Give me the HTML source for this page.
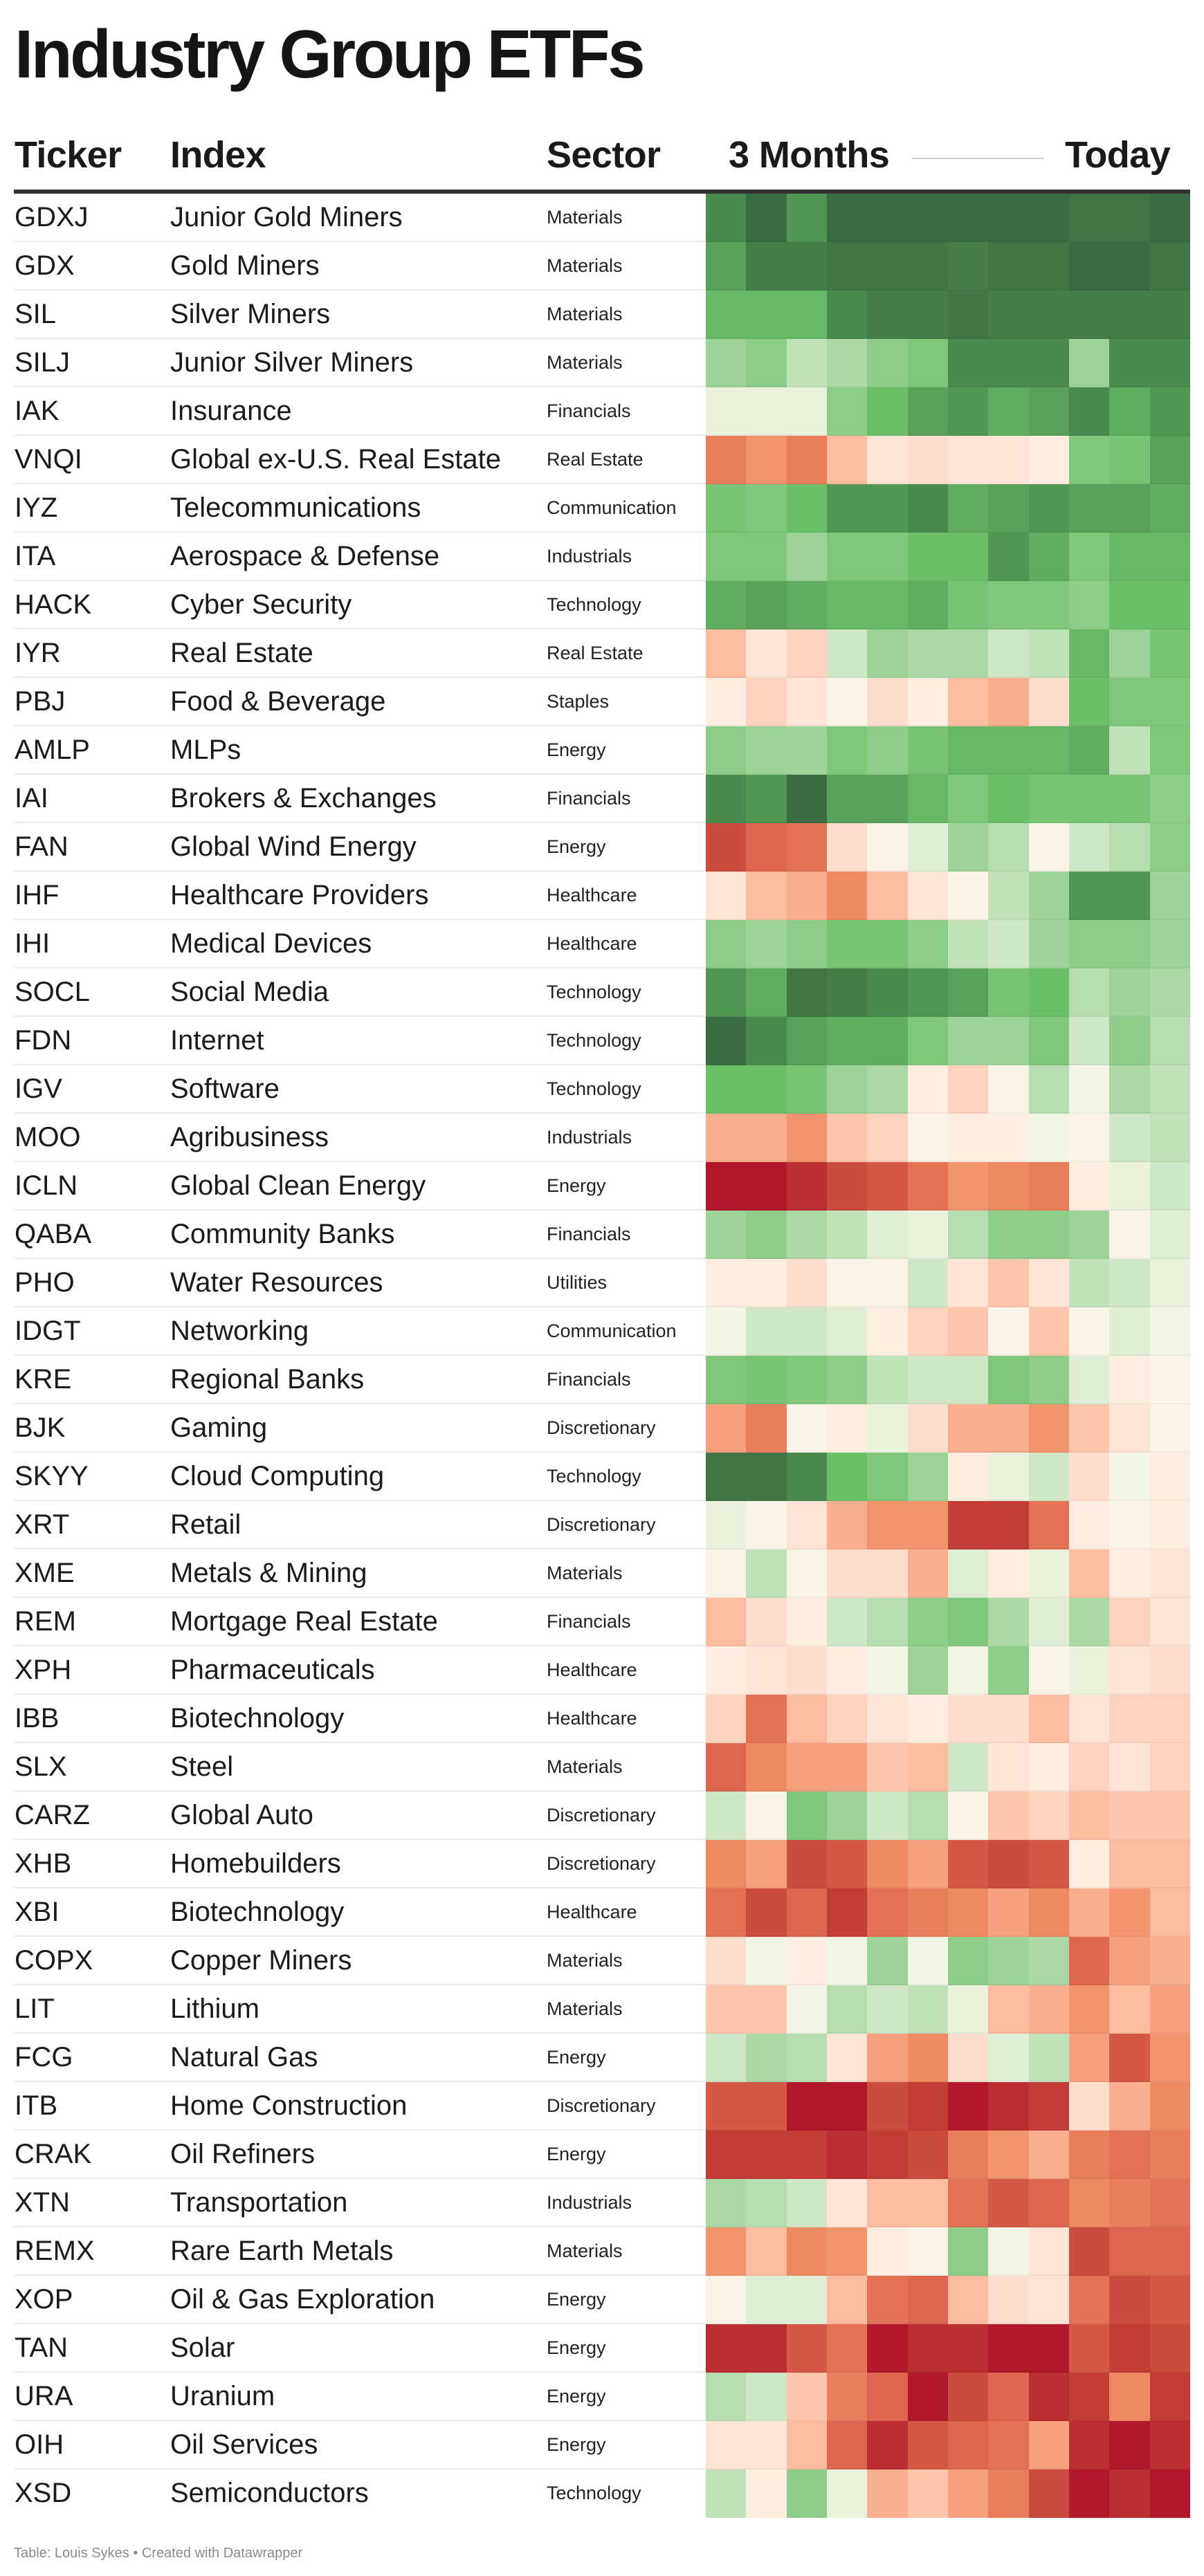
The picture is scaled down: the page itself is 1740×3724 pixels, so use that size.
<!DOCTYPE html>
<html><head><meta charset="utf-8">
<style>
*{margin:0;padding:0;box-sizing:border-box}
html,body{width:1740px;height:3724px;background:#fff;overflow:hidden}
body{position:relative;font-family:"Liberation Sans",Arial,sans-serif;color:#1d1d1d}
.title{position:absolute;left:21px;top:29px;font-size:98px;line-height:98px;font-weight:bold;letter-spacing:-3.5px;color:#151515;white-space:nowrap}
.hd{position:absolute;top:197px;font-size:54px;line-height:54px;font-weight:bold;letter-spacing:-0.6px;color:#1a1a1a;white-space:nowrap}
.hline{position:absolute;left:1318px;top:228px;width:190px;height:2px;background:#cccccc}
.rule{position:absolute;left:20px;top:274px;width:1700px;height:6px;background:#333}
.tb{position:absolute;left:0;top:280px;width:1740px}
.r{position:relative;height:70px}
.r::after{content:"";position:absolute;left:20px;width:1000px;bottom:0;height:2px;background:#ebebeb}
.r:last-child::after{display:none}
.r b,.r span{position:absolute;top:0;font-weight:normal;font-size:40px;line-height:68px;letter-spacing:0;white-space:nowrap;color:#1b1b1b}
.r b{left:21px}
.r span{left:246px}
.r em{position:absolute;left:790px;top:0;font-style:normal;font-size:27px;line-height:68px;letter-spacing:0;white-space:nowrap;color:#222}
.h{position:absolute;left:1020px;top:0;width:700px;height:70px;display:grid;grid-template-columns:repeat(12,1fr)}
.h i{display:block;height:70px;box-shadow:inset 0 -2px 0 rgba(0,0,0,0.035)}
.r:last-child .h i{box-shadow:none}
.foot{position:absolute;left:20px;top:3681px;font-size:20px;line-height:20px;color:#8a8a8a;white-space:nowrap}
.a{background:#3b6b42}.b{background:#417545}.c{background:#457d49}.d{background:#4b8a4f}.e{background:#529653}
.f{background:#59a15b}.g{background:#60ac60}.i{background:#6bbf69}.j{background:#78c374}
.k{background:#80c77c}.l{background:#8ecd89}.m{background:#9dd398}.n{background:#abd8a5}.o{background:#b6ddaf}
.p{background:#c1e1b8}.q{background:#cfe7c6}.r2{background:#e0eed6}.s{background:#eaf2de}.t{background:#f3f5e7}
.u{background:#f9f4e7}.v{background:#fcede0}.w{background:#fde4d6}.x{background:#fdddcc}.y{background:#fdd3bf}
.z{background:#fcc6ad}.A{background:#fbbca0}.B{background:#f8ae8f}.C{background:#f5a07f}.D{background:#f2956f}
.E{background:#ee8a62}.F{background:#e87e5c}.G{background:#e37156}.H{background:#dc6650}.I{background:#d35946}
.J{background:#ca4c3f}.K{background:#c33d38}.L{background:#ba2d31}.M{background:#b1182c}
.gh{background:#66b866}
</style></head><body>
<div class="title">Industry Group ETFs</div>
<div class="hd" style="left:21px">Ticker</div>
<div class="hd" style="left:246px">Index</div>
<div class="hd" style="left:790px">Sector</div>
<div class="hd" style="left:1053px">3 Months</div>
<div class="hline"></div>
<div class="hd" style="left:1539px">Today</div>
<div class="rule"></div>
<div class="tb">
<div class="r"><b>GDXJ</b><span>Junior Gold Miners</span><em>Materials</em><div class="h"><i class="d"></i><i class="a"></i><i class="e"></i><i class="a"></i><i class="a"></i><i class="a"></i><i class="a"></i><i class="a"></i><i class="a"></i><i class="b"></i><i class="b"></i><i class="a"></i></div></div>
<div class="r"><b>GDX</b><span>Gold Miners</span><em>Materials</em><div class="h"><i class="f"></i><i class="c"></i><i class="c"></i><i class="b"></i><i class="b"></i><i class="b"></i><i class="c"></i><i class="b"></i><i class="b"></i><i class="a"></i><i class="a"></i><i class="b"></i></div></div>
<div class="r"><b>SIL</b><span>Silver Miners</span><em>Materials</em><div class="h"><i class="gh"></i><i class="gh"></i><i class="gh"></i><i class="d"></i><i class="c"></i><i class="c"></i><i class="b"></i><i class="c"></i><i class="c"></i><i class="c"></i><i class="c"></i><i class="c"></i></div></div>
<div class="r"><b>SILJ</b><span>Junior Silver Miners</span><em>Materials</em><div class="h"><i class="m"></i><i class="l"></i><i class="p"></i><i class="n"></i><i class="l"></i><i class="k"></i><i class="d"></i><i class="d"></i><i class="d"></i><i class="m"></i><i class="d"></i><i class="d"></i></div></div>
<div class="r"><b>IAK</b><span>Insurance</span><em>Financials</em><div class="h"><i class="s"></i><i class="s"></i><i class="s"></i><i class="l"></i><i class="i"></i><i class="f"></i><i class="e"></i><i class="g"></i><i class="f"></i><i class="d"></i><i class="g"></i><i class="e"></i></div></div>
<div class="r"><b>VNQI</b><span>Global ex-U.S. Real Estate</span><em>Real Estate</em><div class="h"><i class="F"></i><i class="D"></i><i class="F"></i><i class="A"></i><i class="w"></i><i class="x"></i><i class="w"></i><i class="w"></i><i class="v"></i><i class="k"></i><i class="j"></i><i class="f"></i></div></div>
<div class="r"><b>IYZ</b><span>Telecommunications</span><em>Communication</em><div class="h"><i class="j"></i><i class="k"></i><i class="i"></i><i class="e"></i><i class="e"></i><i class="d"></i><i class="g"></i><i class="f"></i><i class="e"></i><i class="f"></i><i class="f"></i><i class="g"></i></div></div>
<div class="r"><b>ITA</b><span>Aerospace &amp; Defense</span><em>Industrials</em><div class="h"><i class="k"></i><i class="k"></i><i class="m"></i><i class="k"></i><i class="k"></i><i class="i"></i><i class="i"></i><i class="e"></i><i class="g"></i><i class="k"></i><i class="gh"></i><i class="gh"></i></div></div>
<div class="r"><b>HACK</b><span>Cyber Security</span><em>Technology</em><div class="h"><i class="g"></i><i class="f"></i><i class="g"></i><i class="gh"></i><i class="gh"></i><i class="g"></i><i class="j"></i><i class="k"></i><i class="k"></i><i class="l"></i><i class="i"></i><i class="i"></i></div></div>
<div class="r"><b>IYR</b><span>Real Estate</span><em>Real Estate</em><div class="h"><i class="A"></i><i class="w"></i><i class="y"></i><i class="q"></i><i class="m"></i><i class="n"></i><i class="n"></i><i class="q"></i><i class="p"></i><i class="gh"></i><i class="m"></i><i class="j"></i></div></div>
<div class="r"><b>PBJ</b><span>Food &amp; Beverage</span><em>Staples</em><div class="h"><i class="v"></i><i class="y"></i><i class="w"></i><i class="u"></i><i class="x"></i><i class="v"></i><i class="A"></i><i class="B"></i><i class="x"></i><i class="i"></i><i class="k"></i><i class="k"></i></div></div>
<div class="r"><b>AMLP</b><span>MLPs</span><em>Energy</em><div class="h"><i class="l"></i><i class="m"></i><i class="m"></i><i class="k"></i><i class="l"></i><i class="j"></i><i class="gh"></i><i class="gh"></i><i class="gh"></i><i class="g"></i><i class="p"></i><i class="k"></i></div></div>
<div class="r"><b>IAI</b><span>Brokers &amp; Exchanges</span><em>Financials</em><div class="h"><i class="d"></i><i class="e"></i><i class="a"></i><i class="f"></i><i class="f"></i><i class="gh"></i><i class="k"></i><i class="i"></i><i class="j"></i><i class="j"></i><i class="j"></i><i class="l"></i></div></div>
<div class="r"><b>FAN</b><span>Global Wind Energy</span><em>Energy</em><div class="h"><i class="J"></i><i class="H"></i><i class="G"></i><i class="x"></i><i class="u"></i><i class="r2"></i><i class="m"></i><i class="o"></i><i class="u"></i><i class="q"></i><i class="o"></i><i class="l"></i></div></div>
<div class="r"><b>IHF</b><span>Healthcare Providers</span><em>Healthcare</em><div class="h"><i class="w"></i><i class="A"></i><i class="B"></i><i class="E"></i><i class="A"></i><i class="w"></i><i class="u"></i><i class="p"></i><i class="m"></i><i class="e"></i><i class="e"></i><i class="m"></i></div></div>
<div class="r"><b>IHI</b><span>Medical Devices</span><em>Healthcare</em><div class="h"><i class="l"></i><i class="m"></i><i class="l"></i><i class="j"></i><i class="j"></i><i class="l"></i><i class="p"></i><i class="q"></i><i class="m"></i><i class="l"></i><i class="l"></i><i class="m"></i></div></div>
<div class="r"><b>SOCL</b><span>Social Media</span><em>Technology</em><div class="h"><i class="e"></i><i class="g"></i><i class="b"></i><i class="c"></i><i class="d"></i><i class="e"></i><i class="f"></i><i class="j"></i><i class="i"></i><i class="o"></i><i class="m"></i><i class="n"></i></div></div>
<div class="r"><b>FDN</b><span>Internet</span><em>Technology</em><div class="h"><i class="a"></i><i class="d"></i><i class="f"></i><i class="g"></i><i class="g"></i><i class="k"></i><i class="m"></i><i class="m"></i><i class="k"></i><i class="q"></i><i class="l"></i><i class="o"></i></div></div>
<div class="r"><b>IGV</b><span>Software</span><em>Technology</em><div class="h"><i class="i"></i><i class="i"></i><i class="j"></i><i class="m"></i><i class="n"></i><i class="v"></i><i class="y"></i><i class="u"></i><i class="o"></i><i class="t"></i><i class="n"></i><i class="p"></i></div></div>
<div class="r"><b>MOO</b><span>Agribusiness</span><em>Industrials</em><div class="h"><i class="B"></i><i class="B"></i><i class="D"></i><i class="z"></i><i class="y"></i><i class="u"></i><i class="v"></i><i class="v"></i><i class="t"></i><i class="u"></i><i class="q"></i><i class="p"></i></div></div>
<div class="r"><b>ICLN</b><span>Global Clean Energy</span><em>Energy</em><div class="h"><i class="M"></i><i class="M"></i><i class="L"></i><i class="J"></i><i class="I"></i><i class="G"></i><i class="D"></i><i class="E"></i><i class="F"></i><i class="v"></i><i class="s"></i><i class="q"></i></div></div>
<div class="r"><b>QABA</b><span>Community Banks</span><em>Financials</em><div class="h"><i class="m"></i><i class="l"></i><i class="n"></i><i class="p"></i><i class="r2"></i><i class="s"></i><i class="o"></i><i class="l"></i><i class="l"></i><i class="m"></i><i class="u"></i><i class="r2"></i></div></div>
<div class="r"><b>PHO</b><span>Water Resources</span><em>Utilities</em><div class="h"><i class="v"></i><i class="v"></i><i class="x"></i><i class="u"></i><i class="u"></i><i class="q"></i><i class="w"></i><i class="z"></i><i class="w"></i><i class="p"></i><i class="q"></i><i class="s"></i></div></div>
<div class="r"><b>IDGT</b><span>Networking</span><em>Communication</em><div class="h"><i class="t"></i><i class="q"></i><i class="q"></i><i class="r2"></i><i class="v"></i><i class="y"></i><i class="z"></i><i class="u"></i><i class="z"></i><i class="u"></i><i class="r2"></i><i class="t"></i></div></div>
<div class="r"><b>KRE</b><span>Regional Banks</span><em>Financials</em><div class="h"><i class="k"></i><i class="j"></i><i class="k"></i><i class="l"></i><i class="p"></i><i class="q"></i><i class="q"></i><i class="k"></i><i class="l"></i><i class="r2"></i><i class="v"></i><i class="u"></i></div></div>
<div class="r"><b>BJK</b><span>Gaming</span><em>Discretionary</em><div class="h"><i class="C"></i><i class="F"></i><i class="u"></i><i class="v"></i><i class="s"></i><i class="x"></i><i class="B"></i><i class="B"></i><i class="D"></i><i class="z"></i><i class="w"></i><i class="u"></i></div></div>
<div class="r"><b>SKYY</b><span>Cloud Computing</span><em>Technology</em><div class="h"><i class="b"></i><i class="b"></i><i class="d"></i><i class="i"></i><i class="k"></i><i class="m"></i><i class="v"></i><i class="s"></i><i class="q"></i><i class="x"></i><i class="t"></i><i class="v"></i></div></div>
<div class="r"><b>XRT</b><span>Retail</span><em>Discretionary</em><div class="h"><i class="s"></i><i class="u"></i><i class="w"></i><i class="B"></i><i class="D"></i><i class="D"></i><i class="K"></i><i class="K"></i><i class="G"></i><i class="v"></i><i class="u"></i><i class="v"></i></div></div>
<div class="r"><b>XME</b><span>Metals &amp; Mining</span><em>Materials</em><div class="h"><i class="u"></i><i class="p"></i><i class="u"></i><i class="x"></i><i class="x"></i><i class="B"></i><i class="r2"></i><i class="v"></i><i class="s"></i><i class="A"></i><i class="v"></i><i class="w"></i></div></div>
<div class="r"><b>REM</b><span>Mortgage Real Estate</span><em>Financials</em><div class="h"><i class="A"></i><i class="x"></i><i class="v"></i><i class="q"></i><i class="o"></i><i class="l"></i><i class="k"></i><i class="n"></i><i class="r2"></i><i class="n"></i><i class="y"></i><i class="w"></i></div></div>
<div class="r"><b>XPH</b><span>Pharmaceuticals</span><em>Healthcare</em><div class="h"><i class="v"></i><i class="w"></i><i class="x"></i><i class="v"></i><i class="t"></i><i class="m"></i><i class="t"></i><i class="l"></i><i class="u"></i><i class="s"></i><i class="w"></i><i class="x"></i></div></div>
<div class="r"><b>IBB</b><span>Biotechnology</span><em>Healthcare</em><div class="h"><i class="y"></i><i class="G"></i><i class="A"></i><i class="y"></i><i class="w"></i><i class="v"></i><i class="x"></i><i class="x"></i><i class="A"></i><i class="w"></i><i class="y"></i><i class="y"></i></div></div>
<div class="r"><b>SLX</b><span>Steel</span><em>Materials</em><div class="h"><i class="H"></i><i class="E"></i><i class="C"></i><i class="C"></i><i class="z"></i><i class="A"></i><i class="q"></i><i class="w"></i><i class="v"></i><i class="y"></i><i class="w"></i><i class="y"></i></div></div>
<div class="r"><b>CARZ</b><span>Global Auto</span><em>Discretionary</em><div class="h"><i class="q"></i><i class="u"></i><i class="k"></i><i class="m"></i><i class="q"></i><i class="o"></i><i class="u"></i><i class="z"></i><i class="y"></i><i class="A"></i><i class="z"></i><i class="z"></i></div></div>
<div class="r"><b>XHB</b><span>Homebuilders</span><em>Discretionary</em><div class="h"><i class="E"></i><i class="C"></i><i class="J"></i><i class="I"></i><i class="E"></i><i class="C"></i><i class="I"></i><i class="J"></i><i class="I"></i><i class="v"></i><i class="A"></i><i class="A"></i></div></div>
<div class="r"><b>XBI</b><span>Biotechnology</span><em>Healthcare</em><div class="h"><i class="G"></i><i class="J"></i><i class="H"></i><i class="K"></i><i class="G"></i><i class="F"></i><i class="E"></i><i class="C"></i><i class="E"></i><i class="B"></i><i class="D"></i><i class="A"></i></div></div>
<div class="r"><b>COPX</b><span>Copper Miners</span><em>Materials</em><div class="h"><i class="x"></i><i class="t"></i><i class="v"></i><i class="t"></i><i class="m"></i><i class="t"></i><i class="l"></i><i class="m"></i><i class="n"></i><i class="H"></i><i class="C"></i><i class="B"></i></div></div>
<div class="r"><b>LIT</b><span>Lithium</span><em>Materials</em><div class="h"><i class="z"></i><i class="z"></i><i class="t"></i><i class="o"></i><i class="q"></i><i class="p"></i><i class="s"></i><i class="A"></i><i class="B"></i><i class="D"></i><i class="A"></i><i class="C"></i></div></div>
<div class="r"><b>FCG</b><span>Natural Gas</span><em>Energy</em><div class="h"><i class="q"></i><i class="n"></i><i class="o"></i><i class="w"></i><i class="C"></i><i class="E"></i><i class="x"></i><i class="r2"></i><i class="p"></i><i class="C"></i><i class="I"></i><i class="D"></i></div></div>
<div class="r"><b>ITB</b><span>Home Construction</span><em>Discretionary</em><div class="h"><i class="I"></i><i class="I"></i><i class="M"></i><i class="M"></i><i class="J"></i><i class="K"></i><i class="M"></i><i class="L"></i><i class="K"></i><i class="x"></i><i class="B"></i><i class="E"></i></div></div>
<div class="r"><b>CRAK</b><span>Oil Refiners</span><em>Energy</em><div class="h"><i class="K"></i><i class="K"></i><i class="K"></i><i class="L"></i><i class="K"></i><i class="J"></i><i class="F"></i><i class="D"></i><i class="B"></i><i class="F"></i><i class="G"></i><i class="F"></i></div></div>
<div class="r"><b>XTN</b><span>Transportation</span><em>Industrials</em><div class="h"><i class="n"></i><i class="o"></i><i class="q"></i><i class="w"></i><i class="A"></i><i class="A"></i><i class="G"></i><i class="I"></i><i class="H"></i><i class="E"></i><i class="F"></i><i class="G"></i></div></div>
<div class="r"><b>REMX</b><span>Rare Earth Metals</span><em>Materials</em><div class="h"><i class="D"></i><i class="A"></i><i class="E"></i><i class="D"></i><i class="v"></i><i class="u"></i><i class="l"></i><i class="t"></i><i class="w"></i><i class="J"></i><i class="H"></i><i class="H"></i></div></div>
<div class="r"><b>XOP</b><span>Oil &amp; Gas Exploration</span><em>Energy</em><div class="h"><i class="u"></i><i class="r2"></i><i class="r2"></i><i class="A"></i><i class="G"></i><i class="H"></i><i class="A"></i><i class="x"></i><i class="w"></i><i class="G"></i><i class="J"></i><i class="I"></i></div></div>
<div class="r"><b>TAN</b><span>Solar</span><em>Energy</em><div class="h"><i class="L"></i><i class="L"></i><i class="I"></i><i class="G"></i><i class="M"></i><i class="L"></i><i class="L"></i><i class="M"></i><i class="M"></i><i class="I"></i><i class="K"></i><i class="J"></i></div></div>
<div class="r"><b>URA</b><span>Uranium</span><em>Energy</em><div class="h"><i class="o"></i><i class="q"></i><i class="z"></i><i class="F"></i><i class="H"></i><i class="M"></i><i class="J"></i><i class="H"></i><i class="L"></i><i class="K"></i><i class="E"></i><i class="K"></i></div></div>
<div class="r"><b>OIH</b><span>Oil Services</span><em>Energy</em><div class="h"><i class="w"></i><i class="w"></i><i class="A"></i><i class="H"></i><i class="L"></i><i class="I"></i><i class="H"></i><i class="G"></i><i class="C"></i><i class="L"></i><i class="M"></i><i class="L"></i></div></div>
<div class="r"><b>XSD</b><span>Semiconductors</span><em>Technology</em><div class="h"><i class="p"></i><i class="v"></i><i class="l"></i><i class="s"></i><i class="B"></i><i class="z"></i><i class="C"></i><i class="F"></i><i class="J"></i><i class="M"></i><i class="L"></i><i class="M"></i></div></div>
</div>
<div class="foot">Table: Louis Sykes • Created with Datawrapper</div>
</body></html>
